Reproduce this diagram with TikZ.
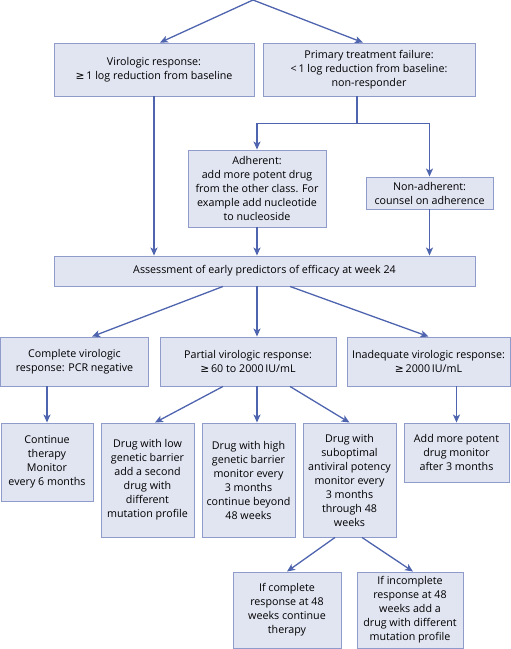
\documentclass[tikz,border=0pt]{standalone}
\usepackage{fontspec}
\setmainfont{Open Sans}
\newfontfamily\symf{DejaVu Sans}
\usetikzlibrary{arrows.meta,positioning,calc}
\definecolor{boxfill}{HTML}{E1E4F1}
\definecolor{boxline}{HTML}{8F9BCB}
\definecolor{arrline}{HTML}{4E64AE}
\newcommand{\geqsym}{{\symf ≥}}
\begin{document}
\begin{tikzpicture}[x=1pt, y=-1pt,
    box/.style={draw=boxline, line width=0.9pt, fill=boxfill, align=center, inner sep=1pt, font=\fontsize{10.7}{14}\selectfont},
    arr/.style={-{Stealth[length=8pt, width=7pt, inset=2pt]}, draw=arrline, line width=1.3pt},
    ln/.style={draw=arrline, line width=1.3pt}
]
\useasboundingbox (0,0) rectangle (511,649);
\coordinate (top) at (253,0);
\node[box, minimum width=200pt, minimum height=53pt] (vresp) at (154,69.5) {Virologic response:\\\geqsym\,1 log reduction from baseline};
\node[box, minimum width=212pt, minimum height=53pt] (fail) at (369,69.5) {Primary treatment failure:\\<\,1 log reduction from baseline:\\non-responder};
\node[box, minimum width=138pt, minimum height=77pt] (adher) at (257,188.5) {Adherent:\\add more potent drug\\from the other class. For\\example add nucleotide\\to nucleoside};
\node[box, minimum width=127pt, minimum height=32pt] (nonad) at (429.5,193) {Non-adherent:\\counsel on adherence};
\node[box, minimum width=421pt, minimum height=30pt] (assess) at (264.5,271) {Assessment of early predictors of efficacy at week 24};
\node[box, minimum width=148pt, minimum height=49pt] (complete) at (74.5,361.5) {Complete virologic\\response: PCR negative};
\node[box, minimum width=176pt, minimum height=49pt] (partial) at (248,361.5) {Partial virologic response:\\\geqsym\,60 to 2000\,IU/mL};
\node[box, minimum width=163pt, minimum height=49pt] (inadeq) at (428.5,361.5) {Inadequate virologic response:\\\geqsym\,2000\,IU/mL};
\node[box, minimum width=92pt, minimum height=78pt] (cont) at (47,462) {Continue\\therapy\\Monitor\\every 6 months};
\node[box, minimum width=93pt, minimum height=114pt] (lowb) at (147.5,480) {Drug with low\\genetic barrier\\add a second\\drug with\\different\\mutation profile};
\node[box, minimum width=93pt, minimum height=114pt] (highb) at (248.5,480) {Drug with high\\genetic barrier\\monitor every\\3 months\\continue beyond\\48 weeks};
\node[box, minimum width=93pt, minimum height=114pt] (subopt) at (349.5,480) {Drug with\\suboptimal\\antiviral potency\\monitor every\\3 months\\through 48\\weeks};
\node[box, minimum width=105pt, minimum height=59pt] (addmore) at (456.5,452.5) {Add more potent\\drug monitor\\after 3 months};
\node[box, minimum width=108pt, minimum height=76pt] (ifcomp) at (287,610) {If complete\\response at 48\\weeks continue\\therapy};
\node[box, minimum width=106pt, minimum height=76pt] (ifinc) at (410,610) {If incomplete\\response at 48\\weeks add a\\drug with different\\mutation profile};

\draw[arr] (top) -- ([xshift=6pt]vresp.north);
\draw[arr] (top) -- ([xshift=-6pt]fail.north);
\draw[arr] (vresp.south) -- (vresp.south |- assess.north);
\draw[ln] ([xshift=-12pt]fail.south) -- ++(0,27) coordinate (split);
\draw[arr] (split) -| (adher.north);
\draw[arr] (split) -| (nonad.north);
\draw[arr] (adher.south) -- (adher.south |- assess.north);
\draw[arr] (nonad.south) -- (nonad.south |- assess.north);
\draw[arr] ([xshift=-41.5pt]assess.south) -- ([xshift=17.5pt]complete.north);
\draw[arr] (adher.south |- assess.south) -- (adher.south |- partial.north);
\draw[arr] ([xshift=25.5pt]assess.south) -- (inadeq.north);
\draw[arr] (cont.north |- complete.south) -- (cont.north);
\draw[arr] ([xshift=-25pt]partial.south) -- ([xshift=7.5pt]lowb.north);
\draw[arr] ([xshift=9pt]partial.south) -- ([xshift=8.5pt]highb.north);
\draw[arr] ([xshift=42pt]partial.south) -- (subopt.north);
\draw[arr] (addmore.north |- inadeq.south) -- (addmore.north);
\draw[arr] ([xshift=-14.5pt]subopt.south) -- (ifcomp.north);
\draw[arr] ([xshift=12.5pt]subopt.south) -- ([xshift=3pt]ifinc.north);
\end{tikzpicture}
\end{document}
